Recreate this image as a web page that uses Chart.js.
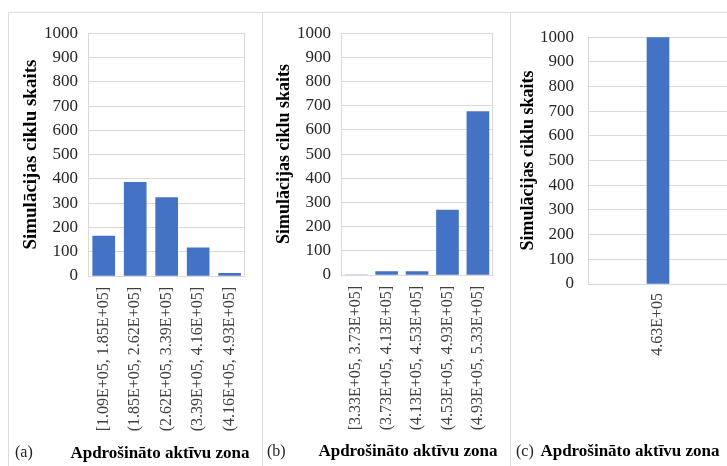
<!DOCTYPE html>
<html lang="lv">
<head>
<meta charset="utf-8">
<title>Simulācijas ciklu skaits pa apdrošināto aktīvu zonām</title>
<script src="https://cdn.jsdelivr.net/npm/chart.js@4/dist/chart.umd.min.js"></script>
<style>
  html, body { margin: 0; padding: 0; background: #fff; }
  body { width: 727px; height: 466px; overflow: hidden; position: relative; }
  .panel { position: absolute; top: 12px; height: 470px; border: 1px solid #dcdcdc; box-sizing: border-box; }
  canvas { position: absolute; display: block; }
  .tag, .caption { position: absolute; font-family: "Liberation Serif", serif; line-height: 1; white-space: nowrap; }
  .tag { font-size: 16px; color: #222; }
  .caption { font-size: 17px; font-weight: bold; color: #000; transform: translateX(-50%); }
</style>
</head>
<body>
<div class="panel" style="left:8px; width:255px;"></div>
<div class="panel" style="left:262px; width:249px;"></div>
<div class="panel" style="left:510px; width:230px;"></div>

<canvas id="chartA" width="252" height="453" style="left:9px; top:13px; width:252px; height:453px;"></canvas>
<canvas id="chartB" width="246" height="453" style="left:263px; top:13px; width:246px; height:453px;"></canvas>
<canvas id="chartC" width="222" height="453" style="left:511px; top:13px; width:222px; height:453px;"></canvas>

<span class="tag" style="left:15px; top:444px;">(a)</span>
<span class="tag" style="left:267px; top:443px;">(b)</span>
<span class="tag" style="left:516px; top:443px;">(c)</span>

<span class="caption" id="capA" style="left:160px; top:444px;"></span>
<span class="caption" id="capB" style="left:408px; top:442px;"></span>
<span class="caption" id="capC" style="left:630px; top:442px;"></span>

<script>
// Histogram bins (interval of insured asset value) and simulation cycle counts
const zonesA = ['[1.09E+05, 1.85E+05]', '(1.85E+05, 2.62E+05]', '(2.62E+05, 3.39E+05]', '(3.39E+05, 4.16E+05]', '(4.16E+05, 4.93E+05]'];
const cyclesA = [164, 386, 323, 116, 11];

const zonesB = ['[3.33E+05, 3.73E+05]', '(3.73E+05, 4.13E+05]', '(4.13E+05, 4.53E+05]', '(4.53E+05, 4.93E+05]', '(4.93E+05, 5.33E+05]'];
const cyclesB = [0, 14, 14, 268, 676];

const zonesC = ['4.63E+05'];
const cyclesC = [1000];

const yTitle = 'Simulācijas ciklu skaits';
const xTitle = 'Apdrošināto aktīvu zona';

const BAR_BLUE = '#4472C4';
const GRID = '#d9d9d9';
const SERIF = '"Liberation Serif", "Times New Roman", serif';

['capA', 'capB', 'capC'].forEach(id => { document.getElementById(id).textContent = xTitle; });

// Thin frame around the plotting area
const plotFrame = {
  id: 'plotFrame',
  beforeDatasetsDraw(chart) {
    const { ctx, chartArea: a } = chart;
    ctx.save();
    ctx.strokeStyle = GRID;
    ctx.lineWidth = 1;
    ctx.strokeRect(Math.round(a.left) + 0.5, Math.round(a.top) + 0.5,
                   Math.round(a.right - a.left) - 1, Math.round(a.bottom - a.top));
    ctx.restore();
  }
};

function histogram(id, labels, values, g) {
  return new Chart(document.getElementById(id), {
    type: 'bar',
    data: {
      labels: labels,
      datasets: [{ data: values, backgroundColor: BAR_BLUE, borderWidth: 0, barThickness: 22 }]
    },
    options: {
      responsive: false,
      maintainAspectRatio: false,
      animation: false,
      layout: { padding: { top: g.top, right: g.right, left: 0, bottom: 0 } },
      plugins: { legend: { display: false }, tooltip: { enabled: false } },
      scales: {
        x: {
          grid: { display: false, drawTicks: false },
          border: { display: false },
          ticks: {
            autoSkip: false, minRotation: 90, maxRotation: 90,
            padding: g.xPad, color: '#404040',
            font: { family: SERIF, size: 16 }
          },
          afterFit(scale) { scale.height = g.xH; }
        },
        y: {
          min: 0, max: 1000,
          grid: { color: GRID, drawTicks: false },
          border: { display: false },
          ticks: {
            stepSize: 100, padding: g.yPad, color: '#262626',
            font: { family: SERIF, size: 17 },
            callback: v => String(v)
          },
          title: {
            display: true, text: yTitle, color: '#000',
            font: { family: SERIF, size: g.yTitleSize, weight: 'bold' },
            padding: { top: g.yTitlePad, bottom: 0 }
          },
          afterFit(scale) { scale.width = g.yW; }
        }
      }
    },
    plugins: [plotFrame]
  });
}

histogram('chartA', zonesA, cyclesA, {
  top: 16, right: 12, yW: 79, xH: 190, xPad: 11, yPad: 10, yTitleSize: 19, yTitlePad: 11
});
histogram('chartB', zonesB, cyclesB, {
  top: 16, right: 9, yW: 78, xH: 191, xPad: 11, yPad: 10, yTitleSize: 18, yTitlePad: 11
});
histogram('chartC', zonesC, cyclesC, {
  top: 16, right: 5, yW: 77, xH: 182, xPad: 9, yPad: 14, yTitleSize: 18, yTitlePad: 7
});
</script>
</body>
</html>
